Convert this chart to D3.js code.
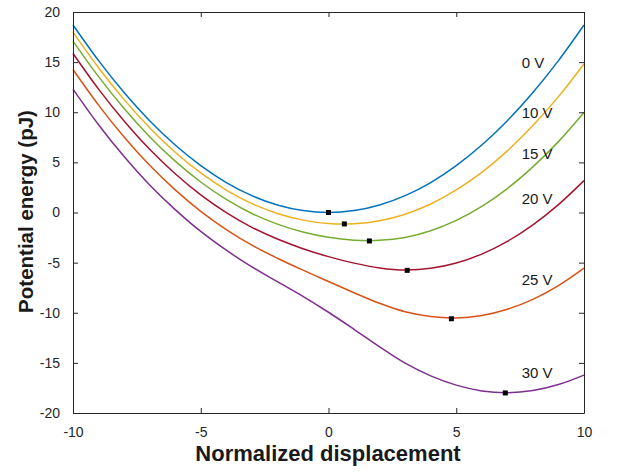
<!DOCTYPE html>
<html>
<head>
<meta charset="utf-8">
<script src="https://cdn.jsdelivr.net/npm/d3@7/dist/d3.min.js"></script>
<style>
  html, body { margin: 0; padding: 0; background: #fff; }
  svg { display: block; font-family: "Liberation Sans", Arial, Helvetica, sans-serif; }
</style>
</head>
<body>
<svg id="chart" width="617" height="472"></svg>
<script>
// ---- data ----
const xs = [-10,-9,-8,-7,-6,-5,-4,-3,-2,-1,0,1,2,3,4,5,6,7,8,9,10];
const v0  = [18.7,15.15,11.97,9.16,6.73,4.68,2.99,1.68,0.75,0.19,0,0.19,0.75,1.68,2.99,4.68,6.73,9.16,11.97,15.15,18.7];
const v10 = [17.99,14.44,11.26,8.45,6.01,3.95,2.24,0.89,-0.10,-0.76,-1.10,-1.12,-0.82,-0.17,0.85,2.25,4.01,6.15,8.67,11.56,14.82];
const v15 = [17.10,13.55,10.37,7.56,5.12,3.04,1.30,-0.10,-1.16,-1.95,-2.48,-2.76,-2.78,-2.49,-1.82,-0.79,0.61,2.39,4.55,7.07,9.97];
const v20 = [15.86,12.31,9.13,6.31,3.87,1.76,-0.01,-1.48,-2.65,-3.61,-4.40,-5.05,-5.53,-5.74,-5.57,-5.04,-4.15,-2.88,-1.23,0.79,3.18];
const v25 = [14.26,10.71,7.53,4.71,2.26,0.12,-1.70,-3.26,-4.56,-5.75,-6.88,-8.0,-9.06,-9.91,-10.38,-10.52,-10.27,-9.65,-8.66,-7.29,-5.55];
const v30 = [12.31,8.76,5.58,2.75,0.29,-1.89,-3.76,-5.43,-6.90,-8.36,-9.95,-11.65,-13.40,-15.03,-16.30,-17.22,-17.80,-17.98,-17.76,-17.16,-16.22];
const seriesNames = ["0 V","10 V","15 V","20 V","25 V","30 V"];
const minX = [0,0.62,1.6,3.08,4.81,6.92];
const minY = [0,-1.14,-2.84,-5.77,-10.6,-18.0];
const labelX = [7.56,7.56,7.56,7.56,7.56,7.56];
const labelY = [14.4,9.43,5.34,0.85,-7.23,-16.48];
const xTicks = [-10,-5,0,5,10];
const yTicks = [-20,-15,-10,-5,0,5,10,15,20];
const colors = ["#0072BD","#EDB120","#77AC30","#A2142F","#D95319","#7E2F8E"];

// ---- layout ----
const svg = d3.select("#chart");
const L = 73, T = 12, W = 511, H = 401;
const x = d3.scaleLinear().domain([-10,10]).range([L, L+W]);
const y = d3.scaleLinear().domain([-20,20]).range([T+H, T]);
const axisColor = "#262626";
const fmt = d => String(d);

const series = [v0,v10,v15,v20,v25,v30];
const line = d3.line().x(d => x(d[0])).y(d => y(d[1])).curve(d3.curveCatmullRom.alpha(0.5));

const plot = svg.append("g");
series.forEach((s, i) => {
  plot.append("path")
    .datum(xs.map((xv, j) => [xv, s[j]]))
    .attr("d", line)
    .attr("fill", "none")
    .attr("stroke", colors[i])
    .attr("stroke-width", 1.5);
});

// minimum markers
plot.selectAll("rect.mk").data(minX.map((v,i)=>[v,minY[i]])).enter().append("rect")
  .attr("class","mk")
  .attr("x", d => x(d[0]) - 2.5).attr("y", d => y(d[1]) - 2.5)
  .attr("width", 5).attr("height", 5).attr("fill", "#000");

// curve labels
plot.selectAll("text.lab").data(seriesNames).enter().append("text")
  .attr("class","lab")
  .attr("x", (d,i) => x(labelX[i])).attr("y", (d,i) => y(labelY[i]))
  .attr("font-size", 15).attr("fill", "#1a1a1a")
  .text(d => d);

// axes (box with inward ticks on all sides)
const tickLen = 5;
const axB = svg.append("g").attr("transform", `translate(0,${T+H})`)
  .call(d3.axisBottom(x).tickValues(xTicks).tickFormat(fmt).tickSizeInner(-tickLen).tickSizeOuter(0).tickPadding(14));
const axT = svg.append("g").attr("transform", `translate(0,${T})`)
  .call(d3.axisTop(x).tickValues(xTicks).tickSizeInner(-tickLen).tickSizeOuter(0).tickFormat(""));
const axL = svg.append("g").attr("transform", `translate(${L},0)`)
  .call(d3.axisLeft(y).tickValues(yTicks).tickFormat(fmt).tickSizeInner(-tickLen).tickSizeOuter(0).tickPadding(13));
const axR = svg.append("g").attr("transform", `translate(${L+W},0)`)
  .call(d3.axisRight(y).tickValues(yTicks).tickSizeInner(-tickLen).tickSizeOuter(0).tickFormat(""));

[axB, axT, axL, axR].forEach(a => {
  a.select(".domain").attr("stroke", axisColor).attr("stroke-width", 1);
  a.selectAll(".tick line").attr("stroke", axisColor).attr("stroke-width", 1);
  a.selectAll(".tick text").attr("fill", axisColor).attr("font-size", 14)
    .style("font-family", '"Liberation Sans", Arial, Helvetica, sans-serif');
});

// axis titles
svg.append("text")
  .attr("x", L + W/2 - 0.5).attr("y", 461)
  .attr("text-anchor", "middle")
  .attr("font-size", 22).attr("font-weight", "bold").attr("fill", "#1a1a1a")
  .text("Normalized displacement");
svg.append("text")
  .attr("transform", `translate(33,${T + H/2 - 1}) rotate(-90)`)
  .attr("text-anchor", "middle")
  .attr("font-size", 20.5).attr("font-weight", "bold").attr("fill", "#1a1a1a")
  .text("Potential energy (pJ)");
</script>
</body>
</html>
